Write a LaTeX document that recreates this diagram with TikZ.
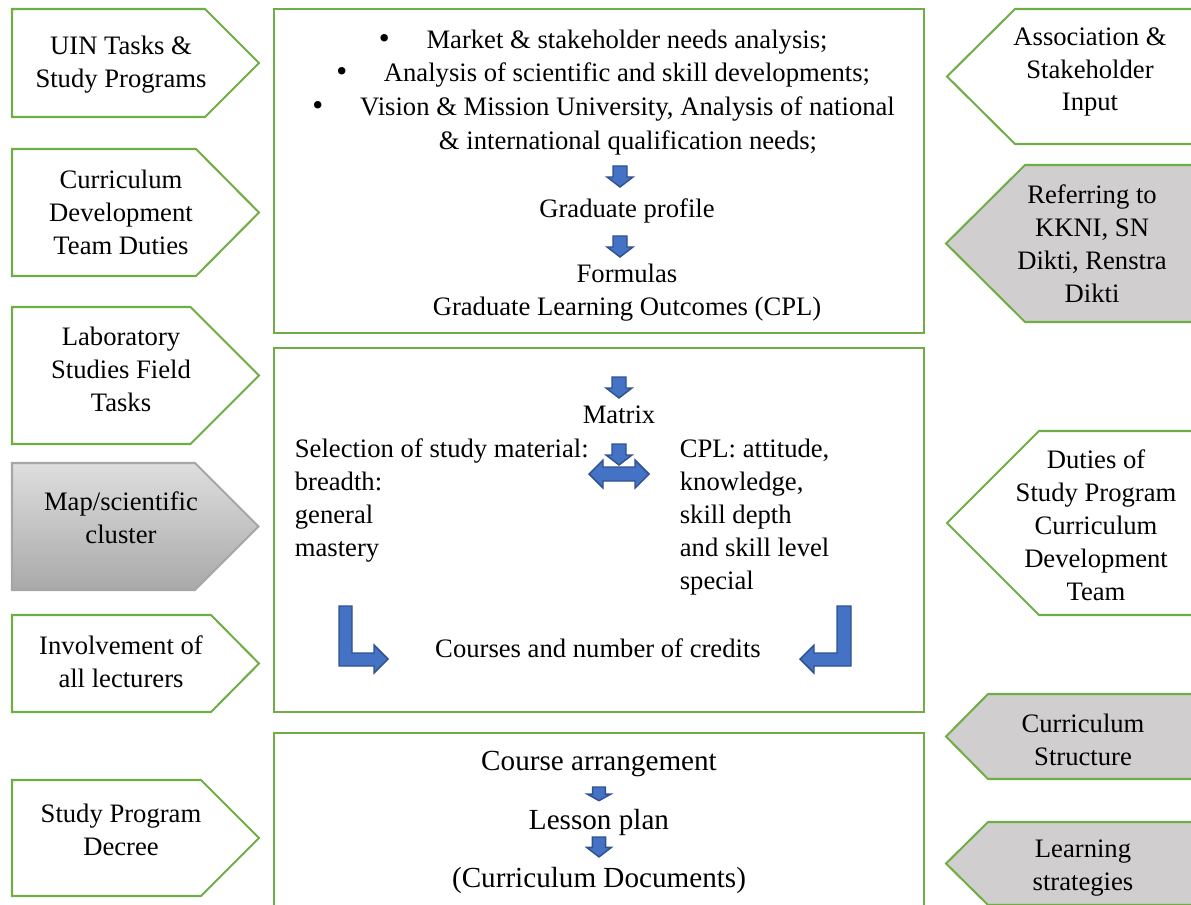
\documentclass[tikz,border=0pt]{standalone}
\usepackage{fontspec}
\setmainfont{Liberation Serif}
\usetikzlibrary{positioning}
\definecolor{frame}{HTML}{70AD47}
\definecolor{arrfill}{HTML}{4472C4}
\definecolor{arrline}{HTML}{2F528F}
\definecolor{panel}{HTML}{D0CECE}
\definecolor{mapTop}{HTML}{DEDEDE}
\definecolor{mapBot}{HTML}{A9A9A9}

\begin{document}
\begin{tikzpicture}[x=0.4185pt, y=-0.4185pt,
font=\fontsize{11.15}{13.8}\selectfont,
frm/.style ={draw=frame, line width=0.85pt, line join=miter},
grayfrm/.style ={frm, fill=panel},
txt/.style ={align=center, inner sep=1pt},
ltxt/.style ={align=left, inner sep=1pt, anchor=north west},
dot/.style ={inner sep=0pt, font=\fontsize{13}{13}\selectfont},
blk/.style ={draw=arrline, fill=arrfill, line width=0.6pt, line join=miter},
dnarrow/.pic ={\path[blk] (-7,0) -- (7,0) -- (7,11) -- (13,11) -- (0,21)
  -- (-13,11) -- (-7,11) -- cycle;}
]
\useasboundingbox (0,0) rectangle (1191,904);
\clip (0,0) rectangle (1191,904);

% left column
\draw[frm] (12,9) -- (205,9) -- (259,63) -- (205,117) -- (12,117) -- cycle;
\node[txt] (uin) at (121,65) {UIN Tasks \&\\Study Programs};
\draw[frm] (12,149) -- (196,149) -- (259,212.5) -- (196,276) -- (12,276) -- cycle;
\node[txt] (cdt) at (121,212) {Curriculum\\Development\\Team Duties};
\draw[frm] (12,307) -- (190.5,307) -- (259,375.5) -- (190.5,444) -- (12,444) -- cycle;
\node[txt] (lab) at (121,369) {Laboratory\\Studies Field\\Tasks};
\draw[draw=gray!70, line width=0.85pt, top color=mapTop, bottom color=mapBot]
  (12,463) -- (195,463) -- (258.5,526.5) -- (195,590) -- (12,590) -- cycle;
\node[txt] (map) at (121,518) {Map/scientific\\cluster};
\draw[frm] (12,615) -- (211,615) -- (259,663.5) -- (211,712) -- (12,712) -- cycle;
\node[txt] (lect) at (121,662) {Involvement of\\all lecturers};
\draw[frm] (12,780) -- (201,780) -- (259,838) -- (201,896) -- (12,896) -- cycle;
\node[txt] (decree) at (121,830) {Study Program\\Decree};

% right column
\draw[frm] (1199,9) -- (1015,9) -- (947,76.5) -- (1015,144) -- (1199,144) -- cycle;
\node[txt] (assoc) at (1090,72) {Association \&\\Stakeholder\\Input};
\draw[grayfrm] (1199,165) -- (1025,165) -- (946,243.5) -- (1025,322) -- (1199,322) -- cycle;
\node[txt] (kkni) at (1092,244) {Referring to\\KKNI, SN\\Dikti, Renstra\\Dikti};
\draw[frm] (1199,431) -- (1039,431) -- (947,523) -- (1039,615) -- (1199,615) -- cycle;
\node[txt] (duty) at (1096,525) {Duties of\\Study Program\\Curriculum\\Development\\Team};
\draw[grayfrm] (1199,694) -- (988,694) -- (946,736.5) -- (988,779) -- (1199,779) -- cycle;
\node[txt] (struct) at (1083,740) {Curriculum\\Structure};
\draw[grayfrm] (1199,822) -- (988,822) -- (946,863.5) -- (988,905) -- (1199,905) -- cycle;
\node[txt] (strat) at (1083,868) {Learning\\strategies};

% middle boxes
\draw[frm] (274,9) rectangle (924,333);
\draw[frm] (274,348) rectangle (924,712);
\draw[frm] (274,733) rectangle (924,910);

\node[txt] (mkt) at (627,42) {Market \& stakeholder needs analysis;};
\node[dot] (bmkt) [left=14pt of mkt.west] {\textbullet};
\node[txt] (sci) at (627,75) {Analysis of scientific and skill developments;};
\node[dot] (bsci) [left=14pt of sci.west] {\textbullet};
\node[txt] (vis) at (627.5,109) {Vision \& Mission University, Analysis of national};
\node[dot] (bvis) [left=14pt of vis.west] {\textbullet};
\node[txt] (visb) at (628,143) {\& international qualification needs;};
\pic at (620,166) {dnarrow};
\node[txt] (grad) at (627,211) {Graduate profile};
\pic at (620,236) {dnarrow};
\node[txt] (cpl) at (627,293) {Formulas\\Graduate Learning Outcomes (CPL)};

\pic at (619,377) {dnarrow};
\node[txt] (matrix) at (619,415) {Matrix};
\node[ltxt] (sel) at (292,436) {Selection of study material:\\breadth:\\general\\mastery};
\node[ltxt] (cplr) at (677,436) {CPL: attitude,\\knowledge,\\skill depth\\and skill level\\special};
\path[blk] (589,474) -- (603,460) -- (603,467) -- (635,467) -- (635,460) -- (649,474)
  -- (635,488) -- (635,481) -- (603,481) -- (603,488) -- cycle;
\pic at (619,444) {dnarrow};
\path[blk] (339,606) -- (352,606) -- (352,653) -- (374,653) -- (374,645) -- (388,659)
  -- (374,673) -- (374,666) -- (339,666) -- cycle;
\path[blk] (851,606) -- (837,606) -- (837,653) -- (814,653) -- (814,645) -- (800,659)
  -- (814,673) -- (814,666) -- (851,666) -- cycle;
\node[txt] (courses) at (598,648) {Courses and number of credits};

\begin{scope}[font=\fontsize{12.2}{14}\selectfont]
\node[txt] (arrange) at (599,764) {Course arrangement};
\pic[xscale=0.9, yscale=0.65] at (599,787) {dnarrow};
\node[txt] (lesson) at (599,822) {Lesson plan};
\pic[scale=0.95] at (599,837) {dnarrow};
\node[txt] (docs) at (599,880) {(Curriculum Documents)};
\end{scope}
\end{tikzpicture}
\end{document}
